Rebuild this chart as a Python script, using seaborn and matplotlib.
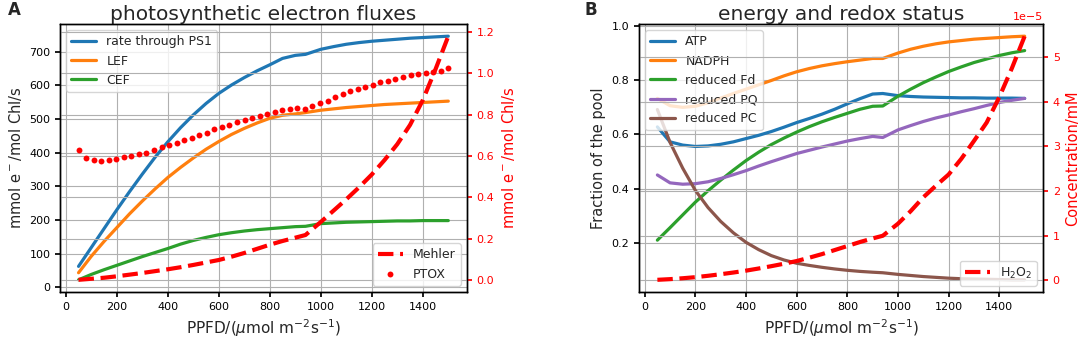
import matplotlib
matplotlib.use('Agg')
import matplotlib.pyplot as plt
import seaborn as sns
import numpy as np

# PPFD grid for the lines (umol m-2 s-1)
ppfd = [50, 100, 150, 200, 250, 300, 350, 400, 450, 500,
        550, 600, 650, 700, 750, 800, 850, 900, 940, 1000,
        1050, 1100, 1150, 1200, 1250, 1300, 1350, 1400, 1450, 1500]

# panel A: photosynthetic electron fluxes (mmol e-/mol Chl/s)
ps1_rate = [62, 118, 174, 230, 284, 336, 386, 432, 474, 512,
            546, 576, 601, 623, 643, 661, 680, 689, 692, 707,
            715, 722, 727, 731, 734, 737, 740, 742, 744, 746]
lef = [43, 92, 136, 177, 218, 256, 292, 326, 356, 384,
       410, 433, 454, 472, 488, 502, 511, 515, 519, 526,
       530, 534, 537, 540, 543, 545, 547, 549, 551, 553]
cef = [22, 38, 52, 65, 78, 91, 103, 115, 128, 139,
       148, 156, 162, 167, 171, 174, 177, 180, 181, 189,
       191, 193, 194, 195, 196, 197, 197, 198, 198, 198]
mehler = [0.0, 0.005, 0.01, 0.017, 0.025, 0.033, 0.042, 0.051, 0.061, 0.072,
          0.084, 0.096, 0.112, 0.13, 0.15, 0.17, 0.188, 0.204, 0.217, 0.28,
          0.335, 0.39, 0.448, 0.51, 0.58, 0.657, 0.75, 0.87, 1.02, 1.18]

# PTOX is drawn as points on a finer PPFD grid
ppfd_ptox = np.linspace(50, 1500, 50)
ptox = [0.627, 0.588, 0.578, 0.575, 0.578, 0.585, 0.593, 0.600, 0.609, 0.615,
        0.628, 0.641, 0.653, 0.662, 0.675, 0.686, 0.699, 0.712, 0.730, 0.741,
        0.750, 0.763, 0.774, 0.786, 0.794, 0.805, 0.814, 0.821, 0.826, 0.831,
        0.826, 0.842, 0.855, 0.867, 0.884, 0.900, 0.913, 0.924, 0.935, 0.943,
        0.956, 0.964, 0.972, 0.980, 0.991, 0.999, 1.002, 1.007, 1.012, 1.027]

# panel B: energy and redox status (fraction of the pool)
atp = [0.627, 0.572, 0.560, 0.555, 0.557, 0.563, 0.572, 0.584, 0.596, 0.610,
       0.626, 0.643, 0.658, 0.674, 0.692, 0.712, 0.731, 0.748, 0.750, 0.742,
       0.739, 0.737, 0.736, 0.735, 0.734, 0.734, 0.733, 0.733, 0.733, 0.732]
nadph = [0.732, 0.705, 0.699, 0.703, 0.716, 0.733, 0.750, 0.766, 0.782, 0.798,
         0.815, 0.830, 0.842, 0.852, 0.860, 0.867, 0.873, 0.879, 0.879, 0.899,
         0.913, 0.924, 0.933, 0.940, 0.945, 0.950, 0.953, 0.956, 0.959, 0.961]
fd_red = [0.210, 0.256, 0.303, 0.350, 0.392, 0.431, 0.468, 0.503, 0.534, 0.562,
          0.586, 0.608, 0.628, 0.646, 0.662, 0.677, 0.692, 0.703, 0.704, 0.740,
          0.766, 0.790, 0.811, 0.831, 0.848, 0.864, 0.877, 0.890, 0.900, 0.908]
pq_red = [0.450, 0.421, 0.416, 0.418, 0.425, 0.437, 0.451, 0.466, 0.483, 0.499,
          0.514, 0.529, 0.541, 0.553, 0.564, 0.575, 0.584, 0.592, 0.588, 0.616,
          0.632, 0.647, 0.660, 0.671, 0.683, 0.694, 0.706, 0.717, 0.725, 0.732]
pc_red = [0.691, 0.570, 0.475, 0.393, 0.330, 0.279, 0.237, 0.202, 0.175, 0.153,
          0.137, 0.125, 0.117, 0.110, 0.104, 0.099, 0.095, 0.092, 0.090, 0.084,
          0.080, 0.076, 0.073, 0.070, 0.068, 0.067, 0.066, 0.065, 0.064, 0.064]
# H2O2 concentration, in units of 1e-5 mM
h2o2 = [0.015, 0.03, 0.05, 0.074, 0.105, 0.14, 0.178, 0.22, 0.268, 0.32,
        0.375, 0.435, 0.51, 0.59, 0.68, 0.77, 0.86, 0.94, 1.0, 1.27,
        1.55, 1.86, 2.12, 2.37, 2.72, 3.12, 3.53, 4.1, 4.75, 5.46]

sns.set_theme(style="ticks", rc={
    "axes.grid": True,
    "grid.color": "#b0b0b0",
    "grid.linewidth": 0.8,
    "axes.edgecolor": "black",
    "axes.linewidth": 1.0,
    "xtick.color": "black",
    "ytick.color": "black",
    "xtick.major.size": 3.5,
    "ytick.major.size": 3.5,
    "legend.framealpha": 0.8,
    "legend.edgecolor": "0.8",
    "legend.fancybox": True,
})
plt.rcParams['font.family'] = ['DejaVu Sans']

C = sns.color_palette("tab10")
LW = 2.3
TICK = 8
LEG = 9
XLABEL = r'PPFD/($\mu$mol m$^{-2}$s$^{-1}$)'

fig = plt.figure(figsize=(10.84, 3.43), dpi=100)
axA = fig.add_axes([0.0554, 0.1487, 0.3752, 0.7813])
axB = fig.add_axes([0.5895, 0.1487, 0.3727, 0.7813])

# ---- panel A ----
sns.lineplot(x=ppfd, y=ps1_rate, ax=axA, color=C[0], lw=LW, label='rate through PS1')
sns.lineplot(x=ppfd, y=lef, ax=axA, color=C[1], lw=LW, label='LEF')
sns.lineplot(x=ppfd, y=cef, ax=axA, color=C[2], lw=LW, label='CEF')
axA.set_title('photosynthetic electron fluxes', fontsize=14.5, pad=3)
axA.set_xlabel(XLABEL, fontsize=11)
axA.set_ylabel(r'mmol e$^-$/mol Chl/s', fontsize=10.5)
axA.tick_params(labelsize=TICK)
axA.legend(loc='upper left', fontsize=LEG)

axA2 = axA.twinx()
sns.lineplot(x=ppfd, y=mehler, ax=axA2, color='red', lw=3, linestyle='--',
             label='Mehler')
sns.scatterplot(x=ppfd_ptox, y=ptox, ax=axA2, color='red', s=18,
                linewidth=0, label='PTOX')
axA2.grid(True)
axA2.set_ylabel(r'mmol e$^-$/mol Chl/s', fontsize=10.5, color='red')
axA2.tick_params(axis='y', colors='red', labelsize=TICK)
axA2.legend(loc='lower right', fontsize=LEG)

# ---- panel B ----
sns.lineplot(x=ppfd, y=atp, ax=axB, color=C[0], lw=LW, label='ATP')
sns.lineplot(x=ppfd, y=nadph, ax=axB, color=C[1], lw=LW, label='NADPH')
sns.lineplot(x=ppfd, y=fd_red, ax=axB, color=C[2], lw=LW, label='reduced Fd')
sns.lineplot(x=ppfd, y=pq_red, ax=axB, color=C[4], lw=LW, label='reduced PQ')
sns.lineplot(x=ppfd, y=pc_red, ax=axB, color=C[5], lw=LW, label='reduced PC')
axB.set_title('energy and redox status', fontsize=14.5, pad=3)
axB.set_xlabel(XLABEL, fontsize=11)
axB.set_ylabel('Fraction of the pool', fontsize=10.5)
axB.tick_params(labelsize=TICK)
axB.legend(loc='upper left', fontsize=LEG)

axB2 = axB.twinx()
sns.lineplot(x=ppfd, y=np.array(h2o2) * 1e-5, ax=axB2, color='red', lw=3,
             linestyle='--', label=r'H$_2$O$_2$')
axB2.grid(True)
axB2.set_ylabel('Concentration/mM', fontsize=10.5, color='red')
axB2.tick_params(axis='y', colors='red', labelsize=TICK)
axB2.yaxis.get_offset_text().set_color('red')
axB2.yaxis.get_offset_text().set_fontsize(TICK)
axB2.legend(loc='lower right', fontsize=LEG)

for ax in (axA, axB):
    ax.set_xticks([0, 200, 400, 600, 800, 1000, 1200, 1400])

fig.text(0.007, 0.955, 'A', fontsize=12, fontweight='bold')
fig.text(0.539, 0.955, 'B', fontsize=12, fontweight='bold')

fig.savefig('out.png', dpi=100)
plt.close(fig)
